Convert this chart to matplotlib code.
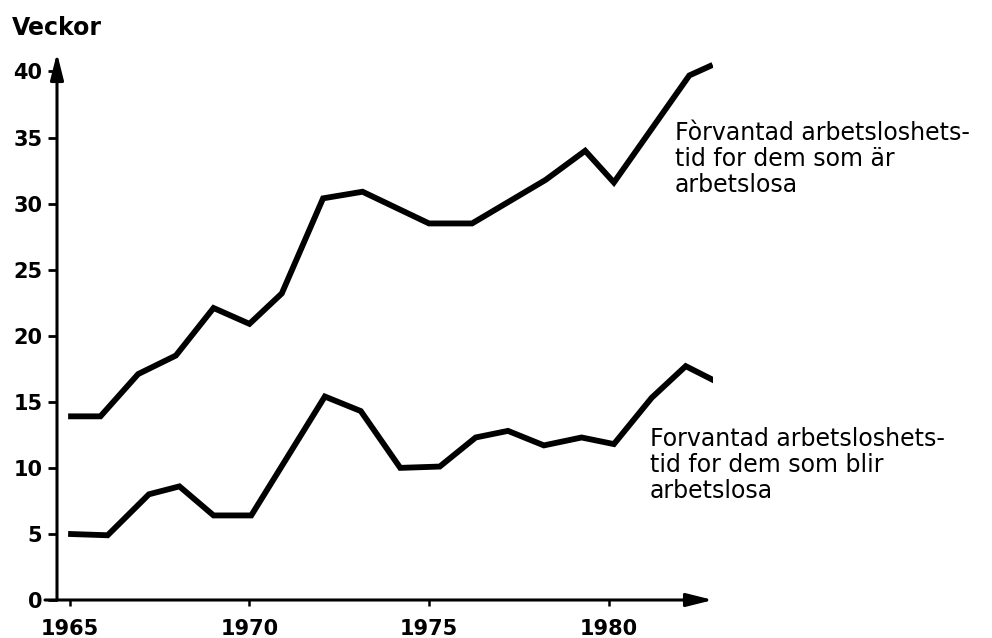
import matplotlib
matplotlib.use("Agg")
import matplotlib.pyplot as plt

# values (year, weeks)
years_ar = [1964.95, 1965.85, 1966.9, 1967.95, 1969.0, 1970.0, 1970.9, 1972.05,
            1973.15, 1975.0, 1976.2, 1978.25, 1979.35, 1980.15, 1982.25, 1982.9]
weeks_ar = [13.9, 13.9, 17.1, 18.5, 22.1, 20.9, 23.2, 30.4,
            30.9, 28.5, 28.5, 31.8, 34.0, 31.6, 39.7, 40.5]

years_blir = [1964.95, 1966.05, 1967.2, 1968.05, 1969.0, 1970.05, 1972.1, 1973.1,
              1974.2, 1975.3, 1976.3, 1977.2, 1978.2, 1979.25, 1980.15, 1981.2,
              1982.15, 1982.95]
weeks_blir = [5.0, 4.9, 8.0, 8.6, 6.4, 6.4, 15.4, 14.3,
              10.0, 10.1, 12.3, 12.8, 11.7, 12.3, 11.8, 15.3,
              17.7, 16.6]

xticks = [1965, 1970, 1975, 1980]
yticks = [0, 5, 10, 15, 20, 25, 30, 35, 40]

label_ar = "Fòrvantad arbetsloshets-\ntid for dem som är\narbetslosa"
label_blir = "Forvantad arbetsloshets-\ntid for dem som blir\narbetslosa"

W, H = 992, 638
fig = plt.figure(figsize=(W / 100, H / 100), dpi=100)
ax = fig.add_axes([57 / W, 1 - 600 / H, (713 - 57) / W, (600 - 53) / H])

ax.plot(years_ar, weeks_ar, color="black", lw=4.2, solid_joinstyle="miter",
        solid_capstyle="butt")
ax.plot(years_blir, weeks_blir, color="black", lw=4.2, solid_joinstyle="miter",
        solid_capstyle="butt")

ax.set_xlim(1964.64, 1982.91)
ax.set_ylim(0, 41.4)

for s in ax.spines.values():
    s.set_visible(False)

# axes drawn as arrows
arrow = dict(arrowstyle="-|>,head_length=0.8,head_width=0.2", lw=2.2,
             color="black", shrinkA=0, shrinkB=0, mutation_scale=20)
ax.annotate("", xy=(1, 0), xytext=(-12 / 656, 0), xycoords="axes fraction",
            arrowprops=arrow, annotation_clip=False)
ax.annotate("", xy=(0, 1), xytext=(0, 0), xycoords="axes fraction",
            arrowprops=arrow, annotation_clip=False)

ax.set_xticks(xticks)
ax.set_yticks(yticks)
ax.tick_params(axis="y", direction="out", length=6.5, width=2, pad=4,
               labelsize=15)
ax.tick_params(axis="x", direction="out", length=4.5, width=1.8, pad=9,
               labelsize=15)
for t in ax.get_xticklabels() + ax.get_yticklabels():
    t.set_fontweight("bold")

fig.text(12 / W, 1 - 28 / H, "Veckor", ha="left", va="center",
         fontsize=17, fontweight="bold")

fig.text(675 / W, 1 - 121 / H, label_ar, ha="left", va="top",
         fontsize=17, linespacing=1.1)
fig.text(650 / W, 1 - 427 / H, label_blir, ha="left", va="top",
         fontsize=17, linespacing=1.1)

fig.savefig("out.png", dpi=100)
